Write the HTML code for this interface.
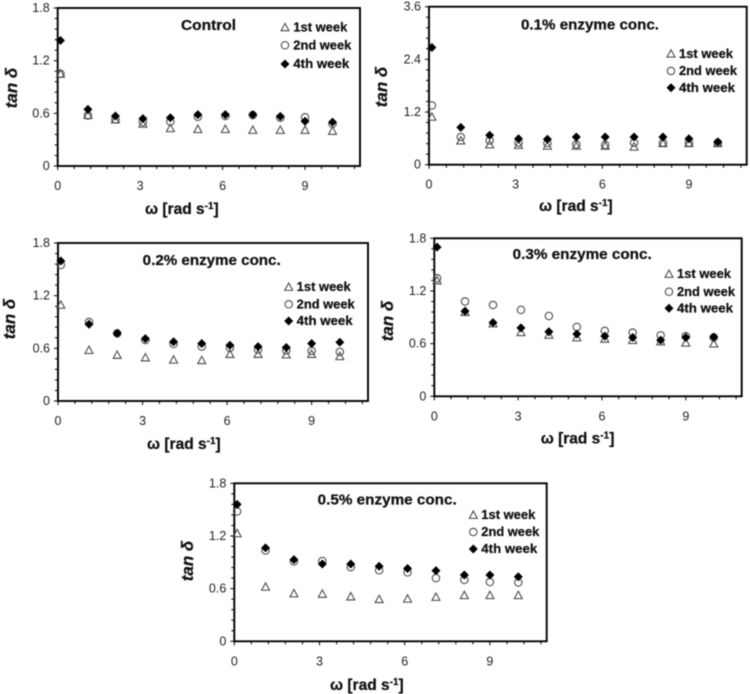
<!DOCTYPE html>
<html lang="en">
<head>
<meta charset="utf-8">
<title>tan δ versus angular frequency at different enzyme concentrations</title>
<style>
  html, body { margin: 0; padding: 0; background: #fff; width: 750px; height: 694px; overflow: hidden; }
  svg { display: block; filter: blur(0.5px); }
  text { font-family: "Liberation Sans", sans-serif; fill: #111; }
  .title { font-size: 14.5px; font-weight: bold; stroke: #111; stroke-width: 0.25px; }
  .legend { font-size: 12.5px; font-weight: bold; stroke: #111; stroke-width: 0.25px; }
  .xtitle { font-size: 15.5px; font-weight: bold; stroke: #111; stroke-width: 0.25px; }
  .ytitle { font-size: 17px; font-weight: bold; font-style: italic; stroke: #111; stroke-width: 0.25px; }
  .tick { font-size: 12.5px; fill: #222; }
</style>
</head>
<body>
<svg id="figure" xmlns="http://www.w3.org/2000/svg" width="750" height="694" viewBox="0 0 750 694">
  <rect x="0" y="0" width="750" height="694" fill="#fff"/>

  <g id="panel-control">
    <text class="title" x="181" y="30" textLength="55" lengthAdjust="spacingAndGlyphs">Control</text>
    <text class="legend" x="293.3" y="31.5" textLength="54" lengthAdjust="spacingAndGlyphs">1st week</text>
    <text class="legend" x="293.3" y="49.5" textLength="58" lengthAdjust="spacingAndGlyphs">2nd week</text>
    <text class="legend" x="293.3" y="68.2" textLength="56" lengthAdjust="spacingAndGlyphs">4th week</text>
    <text class="xtitle" x="145" y="214">ω [rad s<tspan font-size="10" dy="-5">-1</tspan><tspan dy="5">]</tspan></text>
    <text class="ytitle" transform="translate(17 88) rotate(-90)" text-anchor="middle">tan δ</text>
  </g>

  <g id="panel-p1">
    <text class="title" x="521" y="29.5" textLength="138" lengthAdjust="spacingAndGlyphs">0.1% enzyme conc.</text>
    <text class="legend" x="679" y="58" textLength="54" lengthAdjust="spacingAndGlyphs">1st week</text>
    <text class="legend" x="679" y="75.2" textLength="58" lengthAdjust="spacingAndGlyphs">2nd week</text>
    <text class="legend" x="679" y="92" textLength="56" lengthAdjust="spacingAndGlyphs">4th week</text>
    <text class="xtitle" x="539" y="211">ω [rad s<tspan font-size="10" dy="-5">-1</tspan><tspan dy="5">]</tspan></text>
    <text class="ytitle" transform="translate(387 87) rotate(-90)" text-anchor="middle">tan δ</text>
  </g>

  <g id="panel-p2">
    <text class="title" x="142.7" y="265" textLength="138" lengthAdjust="spacingAndGlyphs">0.2% enzyme conc.</text>
    <text class="legend" x="296.7" y="291.2" textLength="54" lengthAdjust="spacingAndGlyphs">1st week</text>
    <text class="legend" x="296.7" y="308.5" textLength="58" lengthAdjust="spacingAndGlyphs">2nd week</text>
    <text class="legend" x="296.7" y="325.2" textLength="56" lengthAdjust="spacingAndGlyphs">4th week</text>
    <text class="xtitle" x="147" y="449">ω [rad s<tspan font-size="10" dy="-5">-1</tspan><tspan dy="5">]</tspan></text>
    <text class="ytitle" transform="translate(15 319) rotate(-90)" text-anchor="middle">tan δ</text>
  </g>

  <g id="panel-p3">
    <text class="title" x="512.7" y="259" textLength="139" lengthAdjust="spacingAndGlyphs">0.3% enzyme conc.</text>
    <text class="legend" x="677" y="278.2" textLength="54" lengthAdjust="spacingAndGlyphs">1st week</text>
    <text class="legend" x="677" y="295.9" textLength="58" lengthAdjust="spacingAndGlyphs">2nd week</text>
    <text class="legend" x="677" y="312.5" textLength="56" lengthAdjust="spacingAndGlyphs">4th week</text>
    <text class="xtitle" x="540.7" y="443.7">ω [rad s<tspan font-size="10" dy="-5">-1</tspan><tspan dy="5">]</tspan></text>
    <text class="ytitle" transform="translate(393 321) rotate(-90)" text-anchor="middle">tan δ</text>
  </g>

  <g id="panel-p5">
    <text class="title" x="317.7" y="504.7" textLength="139" lengthAdjust="spacingAndGlyphs">0.5% enzyme conc.</text>
    <text class="legend" x="481.3" y="519.2" textLength="54" lengthAdjust="spacingAndGlyphs">1st week</text>
    <text class="legend" x="481.3" y="536.2" textLength="58" lengthAdjust="spacingAndGlyphs">2nd week</text>
    <text class="legend" x="481.3" y="553.2" textLength="56" lengthAdjust="spacingAndGlyphs">4th week</text>
    <text class="xtitle" x="330" y="690">ω [rad s<tspan font-size="10" dy="-5">-1</tspan><tspan dy="5">]</tspan></text>
    <text class="ytitle" transform="translate(193 561) rotate(-90)" text-anchor="middle">tan δ</text>
  </g>
</svg>

<script>
// Shared categories and tick labels
const omega = [0.1, 1.1, 2.1, 3.1, 4.1, 5.1, 6.1, 7.1, 8.1, 9, 10];
const xTickLabels = ["0", "3", "6", "9"];
const xTickValues = [0, 3, 6, 9];
const yTickLabelsStandard = ["0", "0.6", "1.2", "1.8"];
const yTickValuesStandard = [0, 0.6, 1.2, 1.8];
const yTickLabelsWide = ["0", "1.2", "2.4", "3.6"];
const yTickValuesWide = [0, 1.2, 2.4, 3.6];

// Series values: tan delta per week
const control1st = [1.05, 0.58, 0.53, 0.48, 0.43, 0.42, 0.42, 0.41, 0.41, 0.41, 0.40];
const control2nd = [1.05, 0.575, 0.53, 0.50, 0.505, 0.56, 0.57, 0.58, 0.55, 0.555, 0.48];
const control4th = [1.43, 0.645, 0.57, 0.54, 0.55, 0.585, 0.585, 0.585, 0.565, 0.51, 0.50];

const enzyme01st = [1.09, 0.55, 0.46, 0.45, 0.43, 0.43, 0.43, 0.41, 0.49, 0.49, 0.49];
const enzyme01nd = [1.35, 0.63, 0.55, 0.50, 0.49, 0.46, 0.45, 0.50, 0.50, 0.50, 0.50];
const enzyme01th = [2.67, 0.85, 0.67, 0.59, 0.58, 0.63, 0.63, 0.63, 0.63, 0.59, 0.52];

const enzyme02st = [1.095, 0.58, 0.525, 0.495, 0.47, 0.465, 0.535, 0.535, 0.53, 0.535, 0.51];
const enzyme02nd = [1.55, 0.90, 0.77, 0.695, 0.65, 0.62, 0.605, 0.585, 0.575, 0.57, 0.56];
const enzyme02th = [1.595, 0.875, 0.77, 0.71, 0.675, 0.655, 0.635, 0.62, 0.61, 0.655, 0.67];

const enzyme03st = [1.32, 0.96, 0.83, 0.73, 0.70, 0.67, 0.655, 0.64, 0.625, 0.61, 0.60];
const enzyme03nd = [1.345, 1.08, 1.04, 0.985, 0.915, 0.79, 0.745, 0.725, 0.695, 0.685, 0.67];
const enzyme03th = [1.70, 0.97, 0.84, 0.78, 0.735, 0.71, 0.685, 0.67, 0.64, 0.67, 0.675];

const enzyme05st = [1.23, 0.62, 0.545, 0.54, 0.51, 0.48, 0.485, 0.505, 0.525, 0.525, 0.525];
const enzyme05nd = [1.48, 1.035, 0.91, 0.915, 0.845, 0.81, 0.785, 0.72, 0.70, 0.675, 0.67];
const enzyme05th = [1.56, 1.065, 0.93, 0.88, 0.88, 0.855, 0.83, 0.805, 0.755, 0.755, 0.735];

const xMax = 11;
const SVG_NS = "http://www.w3.org/2000/svg";

const panels = [
  { id: "panel-control", key: "control", box: [57.7, 8, 360, 166], yMax: 1.8,
    yVals: yTickValuesStandard, yLabs: yTickLabelsStandard,
    s1: control1st, s2: control2nd, s4: control4th,
    legX: 285, legY: [27.3, 45.3, 64] },
  { id: "panel-p1", key: "enzyme-0-1", box: [429, 6.7, 746.7, 164.7], yMax: 3.6,
    yVals: yTickValuesWide, yLabs: yTickLabelsWide,
    s1: enzyme01st, s2: enzyme01nd, s4: enzyme01th,
    legX: 671, legY: [53.7, 71, 87.7] },
  { id: "panel-p2", key: "enzyme-0-2", box: [58, 243, 368, 401], yMax: 1.8,
    yVals: yTickValuesStandard, yLabs: yTickLabelsStandard,
    s1: enzyme02st, s2: enzyme02nd, s4: enzyme02th,
    legX: 288.7, legY: [287, 304.3, 321] },
  { id: "panel-p3", key: "enzyme-0-3", box: [434.3, 238.3, 741.7, 396.3], yMax: 1.8,
    yVals: yTickValuesStandard, yLabs: yTickLabelsStandard,
    s1: enzyme03st, s2: enzyme03nd, s4: enzyme03th,
    legX: 669, legY: [274, 291.7, 308.3] },
  { id: "panel-p5", key: "enzyme-0-5", box: [234.3, 483.3, 546.7, 641.3], yMax: 1.8,
    yVals: yTickValuesStandard, yLabs: yTickLabelsStandard,
    s1: enzyme05st, s2: enzyme05nd, s4: enzyme05th,
    legX: 473.3, legY: [515, 532, 549] }
];

function svgEl(tag, attrs, parent) {
  const el = document.createElementNS(SVG_NS, tag);
  for (const k in attrs) el.setAttribute(k, attrs[k]);
  parent.appendChild(el);
  return el;
}

function makeXScale(box) {
  return function (v) { return box[0] + (v / xMax) * (box[2] - box[0]); };
}
function makeYScale(box, yMax) {
  return function (v) { return box[3] - (v / yMax) * (box[3] - box[1]); };
}

function triangle(cx, cy, parent, name) {
  const r = 4;
  const el = svgEl("polygon", {
    points: (cx - r) + "," + (cy + r * 0.85) + " " + (cx + r) + "," + (cy + r * 0.85) + " " + cx + "," + (cy - r),
    fill: "none", stroke: "#444", "stroke-width": 1.05
  }, parent);
  
  
  return el;
}
function circle(cx, cy, parent, name) {
  const el = svgEl("circle", { cx: cx, cy: cy, r: 3.7, fill: "none", stroke: "#444", "stroke-width": 1.05 }, parent);
  
  
  return el;
}
function diamond(cx, cy, parent, name) {
  const r = 4;
  const el = svgEl("polygon", {
    points: (cx - r) + "," + cy + " " + cx + "," + (cy - r) + " " + (cx + r) + "," + cy + " " + cx + "," + (cy + r),
    fill: "#000", stroke: "#000", "stroke-width": 0.7
  }, parent);
  
  
  return el;
}

panels.forEach(function (p) {
  const g = document.getElementById(p.id);
  const x = makeXScale(p.box);
  const y = makeYScale(p.box, p.yMax);
  const first = g.firstChild;

  // Plot frame
  const frame = svgEl("rect", {
    x: p.box[0], y: p.box[1], width: p.box[2] - p.box[0], height: p.box[3] - p.box[1],
    fill: "none", stroke: "#000", "stroke-width": 1.9
  }, g);
  
  
  g.insertBefore(frame, first);

  // Tick marks
  const xTickStep = xTickValues[1] / 5;
  const xTicks = svgEl("g", { stroke: "#000", "stroke-width": 1 }, g);
  
  
  for (let i = 0; i * xTickStep <= xMax + 0.001; i++) {
    const major = i % 5 === 0;
    const px = x(i * xTickStep);
    const t = svgEl("line", { x1: px, x2: px, y1: p.box[3], y2: p.box[3] + (major ? 4 : 3) }, xTicks);
    
    
  }
  const yTickStep = p.yVals[1] / 5;
  const yTicks = svgEl("g", { stroke: "#000", "stroke-width": 1 }, g);
  
  
  for (let i = 0; i * yTickStep <= p.yMax + 0.001; i++) {
    const major = i % 5 === 0;
    const py = y(i * yTickStep);
    const t = svgEl("line", { x1: p.box[0] - (major ? 4 : 3), x2: p.box[0], y1: py, y2: py }, yTicks);
    
    
  }

  // Tick labels
  xTickValues.forEach(function (v, i) {
    const t = svgEl("text", { class: "tick", x: x(v), y: p.box[3] + 24, "text-anchor": "middle" }, g);
    t.textContent = xTickLabels[i];
    
    
  });
  p.yVals.forEach(function (v, i) {
    const t = svgEl("text", { class: "tick", x: p.box[0] - 8, y: y(v) + 4, "text-anchor": "end" }, g);
    t.textContent = p.yLabs[i];
    
    
  });

  // Series
  const s1 = svgEl("g", {}, g);
  
  
  p.s1.forEach(function (v, i) { triangle(x(omega[i]), y(v), s1, 'point-1st-week'); });

  const s2 = svgEl("g", {}, g);
  
  
  p.s2.forEach(function (v, i) { circle(x(omega[i]), y(v), s2, 'point-2nd-week'); });

  const s4 = svgEl("g", {}, g);
  
  
  p.s4.forEach(function (v, i) { diamond(x(omega[i]), y(v), s4, 'point-4th-week'); });

  // Legend glyphs
  triangle(p.legX, p.legY[0], g, p.key + '-legend-marker-1st-week');
  circle(p.legX, p.legY[1], g, p.key + '-legend-marker-2nd-week');
  diamond(p.legX, p.legY[2], g, p.key + '-legend-marker-4th-week');
});
</script>
</body>
</html>
